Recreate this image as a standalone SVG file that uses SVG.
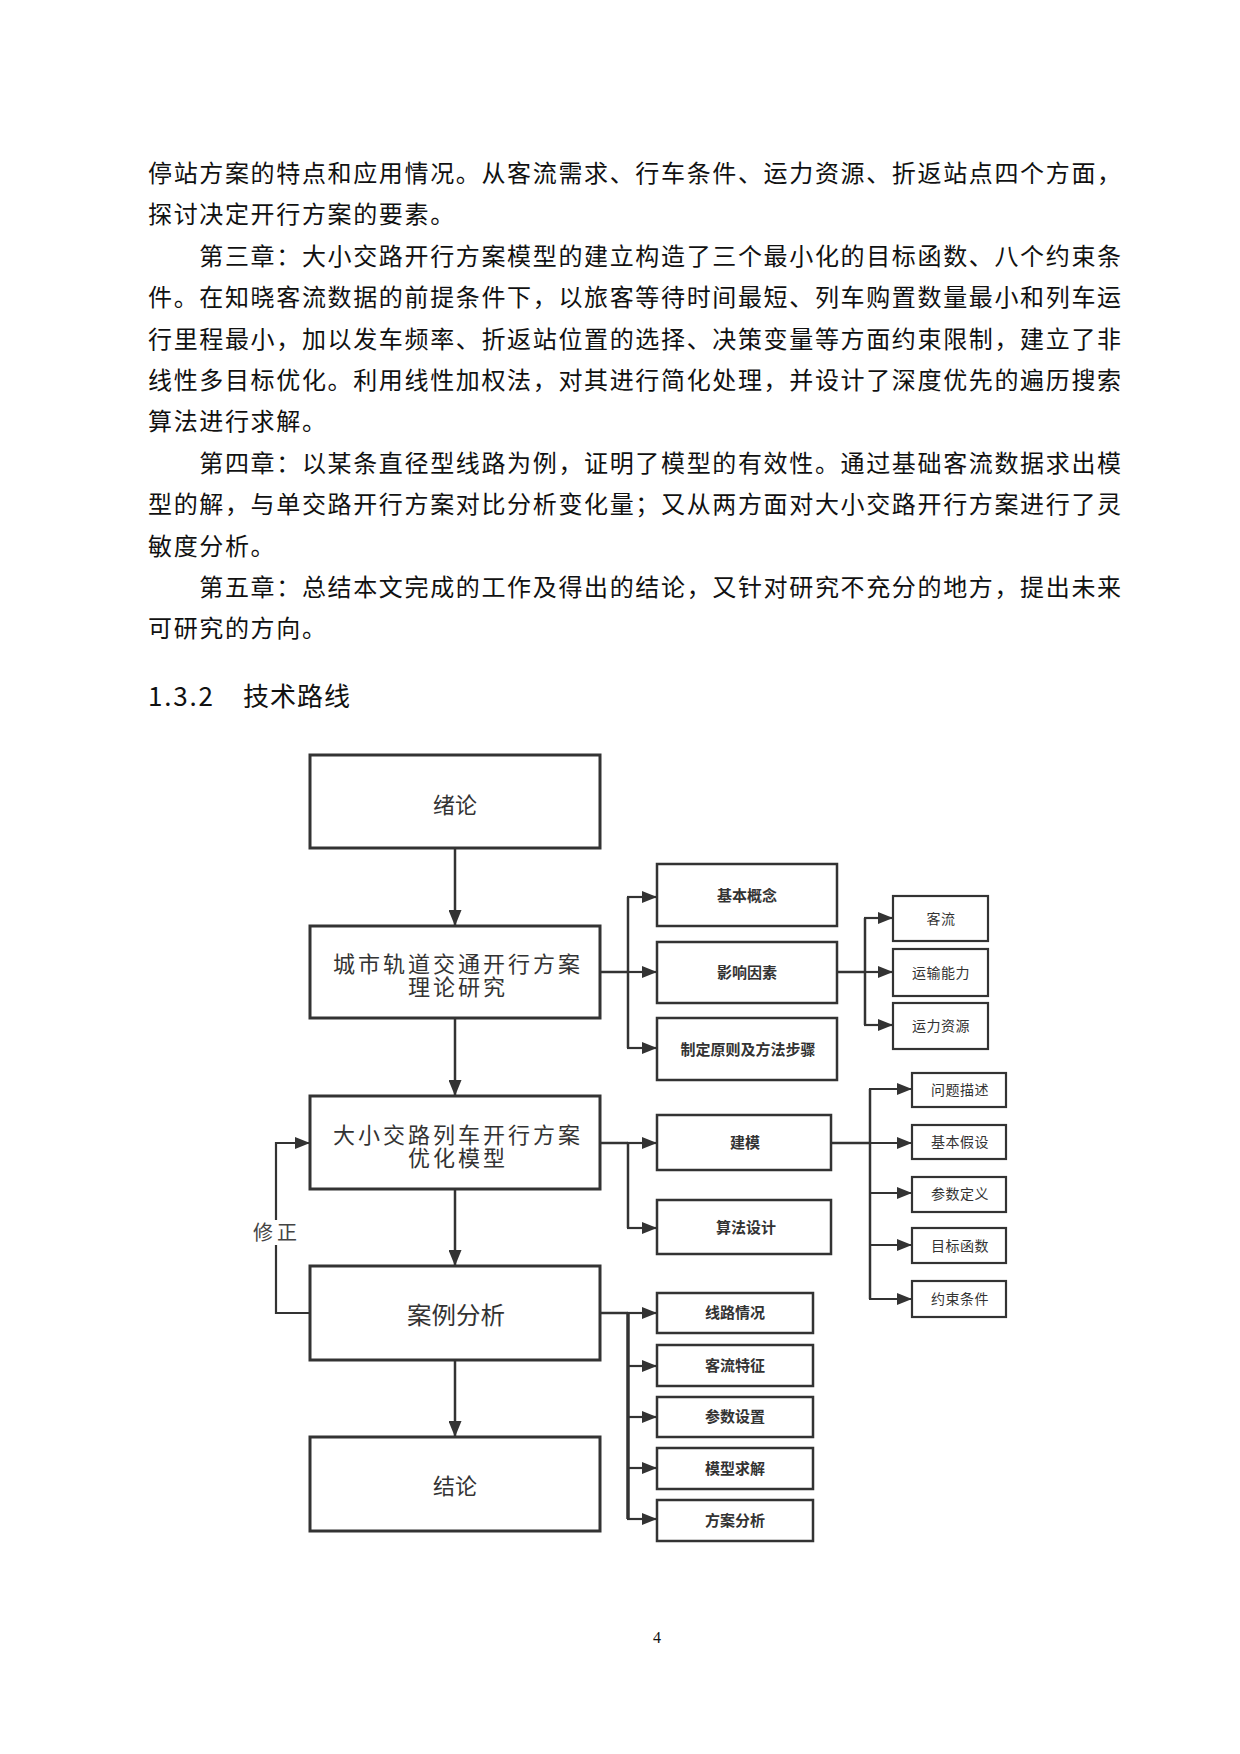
<svg xmlns="http://www.w3.org/2000/svg" width="1240" height="1754" viewBox="0 0 1240 1754">
<defs>
<style>
.body{font-family:"Noto Sans CJK SC","Noto Sans CJK JP",sans-serif;font-size:24px;fill:#111;letter-spacing:1.65px}
.head{font-family:"Noto Sans CJK SC",sans-serif;font-size:26px;fill:#111}
.pg{font-family:"Liberation Serif",serif;font-size:16px;fill:#111}
.main rect{fill:#fff;stroke:#333;stroke-width:3}
.sub rect{fill:#fff;stroke:#333;stroke-width:2.5}
.leaf rect{fill:#fff;stroke:#333;stroke-width:2.2}
.mt{font-family:"Noto Sans CJK SC",sans-serif;font-size:22px;fill:#333;text-anchor:middle}
.mt2{font-family:"Noto Sans CJK SC",sans-serif;font-size:22px;fill:#333;text-anchor:middle;letter-spacing:3px}
.st{font-family:"Noto Sans CJK SC",sans-serif;font-size:15px;font-weight:bold;fill:#333;text-anchor:middle}
.lt{font-family:"Noto Sans CJK SC",sans-serif;font-size:14px;fill:#333;text-anchor:middle;letter-spacing:0.5px}
.ln{fill:none;stroke:#333;stroke-width:2.5}
.ar{fill:none;stroke:#333;stroke-width:2.2;marker-end:url(#ah)}
.arv{fill:none;stroke:#333;stroke-width:2.5;marker-end:url(#av)}
.lbl{font-family:"Noto Sans CJK SC",sans-serif;font-size:20px;fill:#444;text-anchor:middle}
</style>
<marker id="ah" markerUnits="userSpaceOnUse" markerWidth="15" markerHeight="12" refX="15" refY="6" orient="auto">
<path d="M0,0 L15,6 L0,12 Z" fill="#333"/>
</marker>
<marker id="av" markerUnits="userSpaceOnUse" markerWidth="16" markerHeight="13" refX="16" refY="6.5" orient="auto">
<path d="M0,0 L16,6.5 L0,13 Z" fill="#333"/>
</marker>
</defs>
<rect width="1240" height="1754" fill="#fff"/>

<g id="body-text">
<text class="body" x="148" y="182">停站方案的特点和应用情况。从客流需求、行车条件、运力资源、折返站点四个方面，</text>
<text class="body" x="148" y="223.4">探讨决定开行方案的要素。</text>
<text class="body" x="199.3" y="264.8">第三章：大小交路开行方案模型的建立构造了三个最小化的目标函数、八个约束条</text>
<text class="body" x="148" y="306.2">件。在知晓客流数据的前提条件下，以旅客等待时间最短、列车购置数量最小和列车运</text>
<text class="body" x="148" y="347.6">行里程最小，加以发车频率、折返站位置的选择、决策变量等方面约束限制，建立了非</text>
<text class="body" x="148" y="389">线性多目标优化。利用线性加权法，对其进行简化处理，并设计了深度优先的遍历搜索</text>
<text class="body" x="148" y="430.4">算法进行求解。</text>
<text class="body" x="199.3" y="471.8">第四章：以某条直径型线路为例，证明了模型的有效性。通过基础客流数据求出模</text>
<text class="body" x="148" y="513.2">型的解，与单交路开行方案对比分析变化量；又从两方面对大小交路开行方案进行了灵</text>
<text class="body" x="148" y="554.6">敏度分析。</text>
<text class="body" x="199.3" y="596">第五章：总结本文完成的工作及得出的结论，又针对研究不充分的地方，提出未来</text>
<text class="body" x="148" y="637.4">可研究的方向。</text>
<text class="head" x="148" y="706" textLength="65" lengthAdjust="spacing">1.3.2</text>
<text class="head" x="243" y="706" textLength="107" lengthAdjust="spacing">技术路线</text>
</g>

<g id="connectors">
<line class="arv" x1="455" y1="848" x2="455" y2="926"/>
<line class="arv" x1="455" y1="1018" x2="455" y2="1096"/>
<line class="arv" x1="455" y1="1189" x2="455" y2="1266"/>
<line class="arv" x1="455" y1="1360" x2="455" y2="1437"/>
<line class="ln" x1="600" y1="972" x2="628" y2="972"/>
<line class="ln" x1="628" y1="897" x2="628" y2="1048"/>
<line class="ar" x1="627" y1="897" x2="657" y2="897"/>
<line class="ar" x1="627" y1="972" x2="657" y2="972"/>
<line class="ar" x1="627" y1="1048" x2="657" y2="1048"/>
<line class="ln" x1="837" y1="972" x2="865" y2="972"/>
<line class="ln" x1="865" y1="918" x2="865" y2="1025"/>
<line class="ar" x1="864" y1="918" x2="893" y2="918"/>
<line class="ar" x1="864" y1="972" x2="893" y2="972"/>
<line class="ar" x1="864" y1="1025" x2="893" y2="1025"/>
<line class="ln" x1="600" y1="1143" x2="628" y2="1143"/>
<line class="ln" x1="628" y1="1143" x2="628" y2="1228"/>
<line class="ar" x1="627" y1="1143" x2="657" y2="1143"/>
<line class="ar" x1="627" y1="1228" x2="657" y2="1228"/>
<line class="ln" x1="831" y1="1143" x2="870" y2="1143"/>
<line class="ln" x1="870" y1="1089" x2="870" y2="1299"/>
<line class="ar" x1="869" y1="1089" x2="912" y2="1089"/>
<line class="ar" x1="869" y1="1143" x2="912" y2="1143"/>
<line class="ar" x1="869" y1="1193" x2="912" y2="1193"/>
<line class="ar" x1="869" y1="1245" x2="912" y2="1245"/>
<line class="ar" x1="869" y1="1299" x2="912" y2="1299"/>
<line class="ln" x1="600" y1="1313" x2="628" y2="1313"/>
<line class="ln" x1="628" y1="1313" x2="628" y2="1519" style="stroke-width:3.5"/>
<line class="ar" x1="627" y1="1313" x2="657" y2="1313"/>
<line class="ar" x1="627" y1="1366" x2="657" y2="1366"/>
<line class="ar" x1="627" y1="1417" x2="657" y2="1417"/>
<line class="ar" x1="627" y1="1468" x2="657" y2="1468"/>
<line class="ar" x1="627" y1="1519" x2="657" y2="1519"/>
<polyline class="ar" points="310,1313 276,1313 276,1143 310,1143"/>
<rect x="252" y="1220" width="48" height="25" fill="#fff"/>
<text class="lbl" x="275" y="1240" textLength="44" lengthAdjust="spacing">修正</text>
</g>

<g id="n-xulun" class="main">
<rect x="310" y="755" width="290" height="93"/>
<text class="mt" x="455" y="813">绪论</text>
</g>
<g id="n-lilun" class="main">
<rect x="310" y="926" width="290" height="92"/>
<text class="mt2"><tspan x="458" y="972">城市轨道交通开行方案</tspan><tspan x="458" y="995">理论研究</tspan></text>
</g>
<g id="n-youhua" class="main">
<rect x="310" y="1096" width="290" height="93"/>
<text class="mt2"><tspan x="458" y="1143">大小交路列车开行方案</tspan><tspan x="458" y="1166">优化模型</tspan></text>
</g>
<g id="n-anli" class="main">
<rect x="310" y="1266" width="290" height="94"/>
<text class="mt" x="456" y="1324" textLength="98" lengthAdjust="spacingAndGlyphs" style="font-size:24px">案例分析</text>
</g>
<g id="n-jielun" class="main">
<rect x="310" y="1437" width="290" height="94"/>
<text class="mt" x="455" y="1494">结论</text>
</g>

<g id="n-gainian" class="sub">
<rect x="657" y="864" width="180" height="62"/>
<text class="st" x="747" y="901">基本概念</text>
</g>
<g id="n-yinsu" class="sub">
<rect x="657" y="942" width="180" height="61"/>
<text class="st" x="747" y="978">影响因素</text>
</g>
<g id="n-yuanze" class="sub">
<rect x="657" y="1018" width="180" height="62"/>
<text class="st" x="748" y="1055">制定原则及方法步骤</text>
</g>

<g id="n-keliu" class="leaf">
<rect x="893" y="896" width="95" height="45"/>
<text class="lt" x="941" y="924">客流</text>
</g>
<g id="n-yunshu" class="leaf">
<rect x="893" y="949" width="95" height="47"/>
<text class="lt" x="941" y="978">运输能力</text>
</g>
<g id="n-yunli" class="leaf">
<rect x="893" y="1003" width="95" height="46"/>
<text class="lt" x="941" y="1031">运力资源</text>
</g>

<g id="n-jianmo" class="sub">
<rect x="657" y="1115" width="174" height="55"/>
<text class="st" x="745" y="1148">建模</text>
</g>
<g id="n-suanfa" class="sub">
<rect x="657" y="1200" width="174" height="54"/>
<text class="st" x="746" y="1233">算法设计</text>
</g>

<g id="n-wenti" class="leaf">
<rect x="912" y="1073" width="94" height="34"/>
<text class="lt" x="960" y="1095">问题描述</text>
</g>
<g id="n-jiashe" class="leaf">
<rect x="912" y="1125" width="94" height="34"/>
<text class="lt" x="960" y="1147">基本假设</text>
</g>
<g id="n-canshu" class="leaf">
<rect x="912" y="1177" width="94" height="35"/>
<text class="lt" x="960" y="1199">参数定义</text>
</g>
<g id="n-mubiao" class="leaf">
<rect x="912" y="1228" width="94" height="35"/>
<text class="lt" x="960" y="1251">目标函数</text>
</g>
<g id="n-yueshu" class="leaf">
<rect x="912" y="1281" width="94" height="36"/>
<text class="lt" x="960" y="1304">约束条件</text>
</g>

<g id="n-xianlu" class="sub">
<rect x="657" y="1293" width="156" height="40"/>
<text class="st" x="735" y="1318">线路情况</text>
</g>
<g id="n-tezheng" class="sub">
<rect x="657" y="1345" width="156" height="41"/>
<text class="st" x="735" y="1371">客流特征</text>
</g>
<g id="n-shezhi" class="sub">
<rect x="657" y="1397" width="156" height="40"/>
<text class="st" x="735" y="1422">参数设置</text>
</g>
<g id="n-qiujie" class="sub">
<rect x="657" y="1448" width="156" height="41"/>
<text class="st" x="735" y="1474">模型求解</text>
</g>
<g id="n-fangan" class="sub">
<rect x="657" y="1500" width="156" height="41"/>
<text class="st" x="735" y="1526">方案分析</text>
</g>

<text class="pg" x="657" y="1643" text-anchor="middle">4</text>
</svg>
